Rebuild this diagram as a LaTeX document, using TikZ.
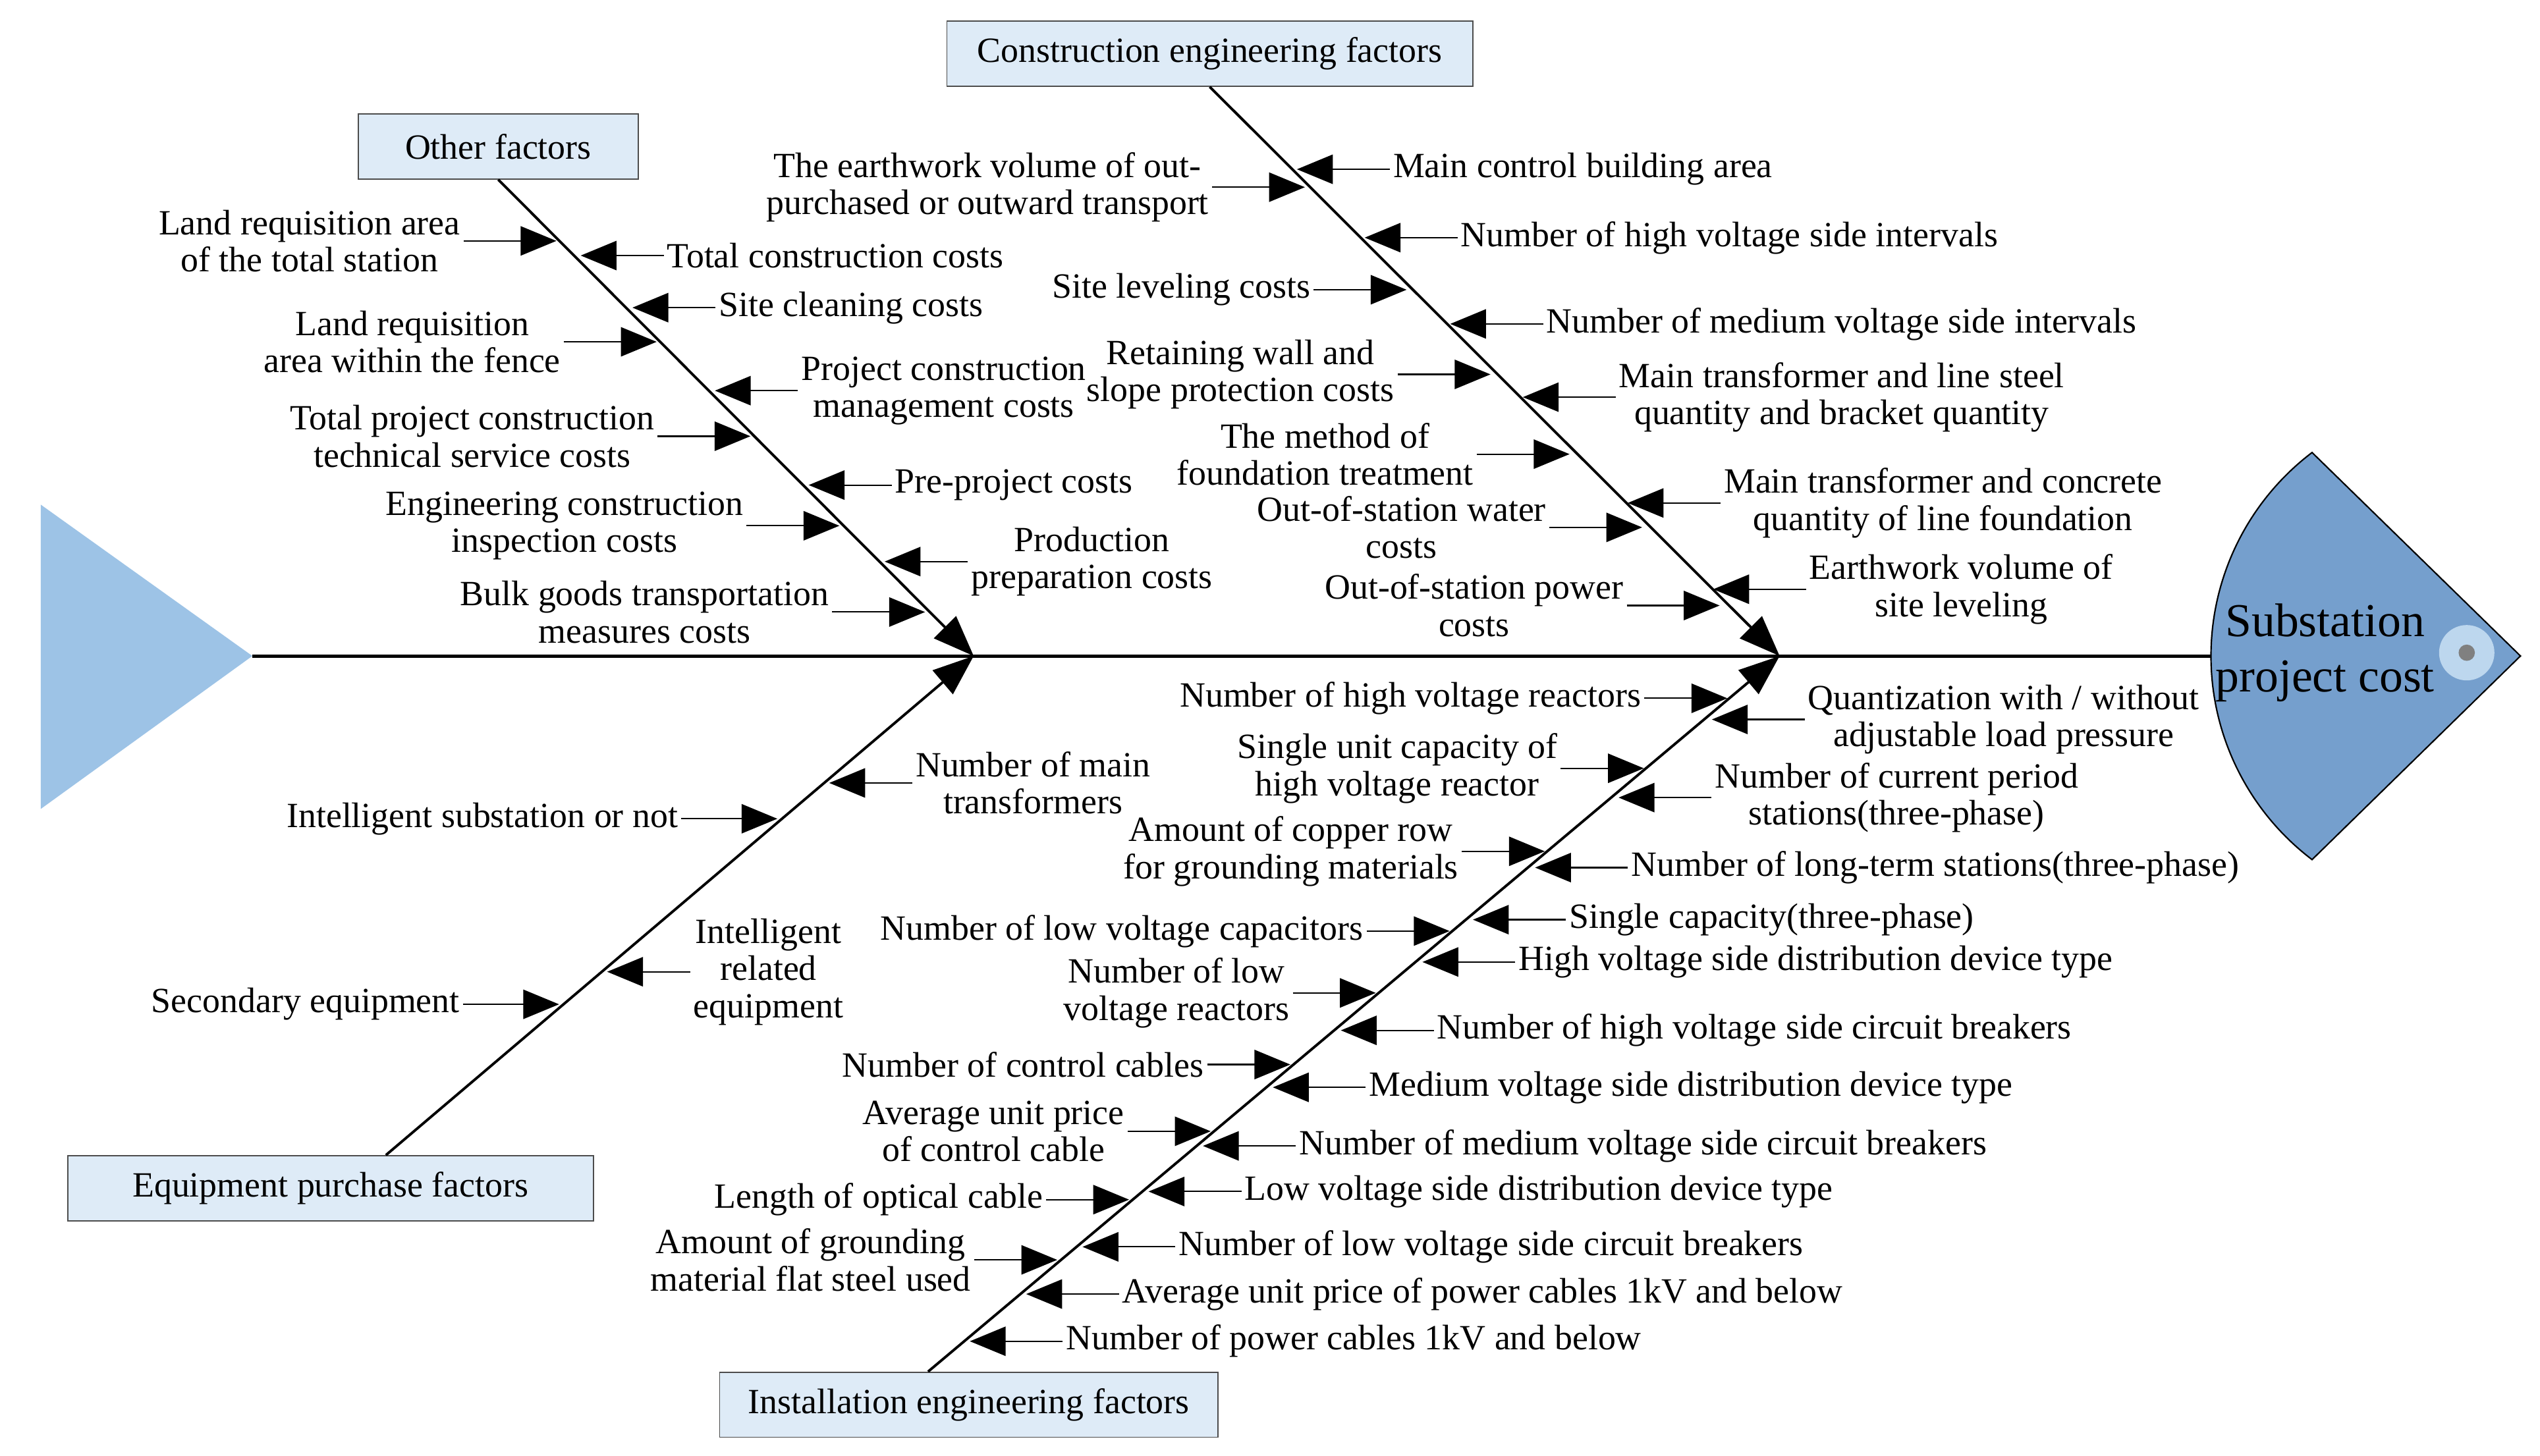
\documentclass[tikz,border=0pt]{standalone}
\usepackage{fontspec}
\setmainfont{Liberation Serif}
\usetikzlibrary{arrows.meta,calc}
\definecolor{tailblue}{HTML}{9DC3E6}
\definecolor{headblue}{HTML}{759FCD}
\definecolor{boxblue}{HTML}{DEEBF7}
\definecolor{eyeblue}{HTML}{BDD7EE}
\newcommand{\lbfont}{\fontsize{12.4}{13}\selectfont}
\tikzset{
  lbl/.style={font=\lbfont,inner sep=1pt,align=center},
  br/.style={line width=0.5pt,-{Triangle[length=4.4mm,width=3.6mm]}},
  bone/.style={line width=0.9pt,-{Triangle[length=5mm,width=3.8mm]}},
  cat/.style={draw=black!70,fill=boxblue,minimum height=0.8cm,font=\lbfont,inner sep=0pt}
}
\begin{document}
\begin{tikzpicture}[x=0.02cm,y=-0.02cm]
\useasboundingbox (0,0) rectangle (1560,894.4);
% tail and head
\fill[tailblue] (25,310) -- (155,403) -- (25,497) -- cycle;
\draw[fill=headblue,line width=0.5pt] (1420,278) arc[start angle=232.8,end angle=127.2,radius=157]
  -- (1548,403) -- cycle;
\node[font=\fontsize{16.5}{19.5}\selectfont,align=center] (head) at (1428,401) {Substation\\project cost};
\fill[eyeblue] (1515,401) circle[radius=17];
\fill[black!50] (1515,401) circle[radius=5];
% spine
\coordinate (tail) at (155,403);
\coordinate (neck) at (1358,403);
\draw[line width=1.2pt] (tail) -- (neck);
\coordinate (j1) at (598,403);
\coordinate (j2) at (1093,403);
% category boxes
\node[cat,minimum width=3.44cm] (other) at (306,90) {Other factors};
\node[cat,minimum width=6.46cm] (constr) at (743,33) {Construction engineering factors};
\node[cat,minimum width=6.46cm] (equip) at (203,730) {Equipment purchase factors};
\node[cat,minimum width=6.12cm] (inst) at (595,863) {Installation engineering factors};
\draw[bone] (other.south) -- (j1);
\draw[bone] (constr.south) -- (j2);
\draw[bone] (equip.north -| 237,0) -- (j1);
\draw[bone] (inst.north -| 570,0) -- (j2);
% Other factors
\foreach \y/\t [count=\i] in {148/{Land requisition area\\of the total station},210/{Land requisition\\area within the fence},
  268/{Total project construction\\technical service costs},323/{Engineering construction\\inspection costs},
  376/{Bulk goods transportation\\measures costs}}{
  \pgfmathsetmacro\bx{307+(\y-110)*0.993}
  \coordinate (ol\i) at (\bx-3,\y);
  \node[lbl,anchor=east] (oll\i) at (\bx-60,\y) {\t};
  \draw[br] (oll\i.east) -- (ol\i);
}
\foreach \y/\t [count=\i] in {157/{Total construction costs},189/{Site cleaning costs},
  240/{Project construction\\management costs},298/{Pre-project costs},345/{Production\\preparation costs}}{
  \pgfmathsetmacro\bx{307+(\y-110)*0.993}
  \coordinate (or\i) at (\bx+3,\y);
  \node[lbl,anchor=west] (orl\i) at (\bx+54,\y) {\t};
  \draw[br] (orl\i.west) -- (or\i);
}
% Construction engineering factors
\foreach \y/\t [count=\i] in {115/{The earthwork volume of out-\\purchased or outward transport},178/{Site leveling costs},
  230/{Retaining wall and\\slope protection costs},279/{The method of\\foundation treatment},
  324/{Out-of-station water\\costs},372/{Out-of-station power\\costs}}{
  \pgfmathsetmacro\bx{743+(\y-53)*0.991}
  \coordinate (cl\i) at (\bx-3,\y);
  \node[lbl,anchor=east] (cll\i) at (\bx-60,\y) {\t};
  \draw[br] (cll\i.east) -- (cl\i);
}
\foreach \y/\t [count=\i] in {104/{Main control building area},146/{Number of high voltage side intervals},
  199/{Number of medium voltage side intervals},244/{Main transformer and line steel\\quantity and bracket quantity},
  309/{Main transformer and concrete\\quantity of line foundation},362/{Earthwork volume of\\site leveling}}{
  \pgfmathsetmacro\bx{743+(\y-53)*0.991}
  \coordinate (cr\i) at (\bx+3,\y);
  \node[lbl,anchor=west] (crl\i) at (\bx+60,\y) {\t};
  \draw[br] (crl\i.west) -- (cr\i);
}
% Equipment purchase factors
\foreach \y/\t [count=\i] in {503/{Intelligent substation or not},617/{Secondary equipment}}{
  \pgfmathsetmacro\bx{237+(710-\y)*1.176}
  \coordinate (el\i) at (\bx-3,\y);
  \node[lbl,anchor=east] (ell\i) at (\bx-62,\y) {\t};
  \draw[br] (ell\i.east) -- (el\i);
}
\foreach \y/\t [count=\i] in {481/{Number of main\\transformers},597/{Intelligent\\related\\equipment}}{
  \pgfmathsetmacro\bx{237+(710-\y)*1.176}
  \coordinate (er\i) at (\bx+3,\y);
  \node[lbl,anchor=west] (erl\i) at (\bx+54,\y) {\t};
  \draw[br] (erl\i.west) -- (er\i);
}
% Installation engineering factors
\foreach \y/\t [count=\i] in {429/{Number of high voltage reactors},472/{Single unit capacity of\\high voltage reactor},
  523/{Amount of copper row\\for grounding materials},572/{Number of low voltage capacitors},
  610/{Number of low\\voltage reactors},654/{Number of control cables},695/{Average unit price\\of control cable},
  737/{Length of optical cable},774/{Amount of grounding\\material flat steel used}}{
  \pgfmathsetmacro\bx{570+(843-\y)*1.193}
  \coordinate (il\i) at (\bx-3,\y);
  \node[lbl,anchor=east] (ill\i) at (\bx-54,\y) {\t};
  \draw[br] (ill\i.east) -- (il\i);
}
\foreach \y/\t [count=\i] in {442/{Quantization with / without\\adjustable load pressure},
  490/{Number of current period\\stations(three-phase)},533/{Number of long-term stations(three-phase)},
  565/{Single capacity(three-phase)},591/{High voltage side distribution device type},
  633/{Number of high voltage side circuit breakers},668/{Medium voltage side distribution device type},
  704/{Number of medium voltage side circuit breakers},732/{Low voltage side distribution device type},
  766/{Number of low voltage side circuit breakers},795/{Average unit price of power cables 1kV and below},
  824/{Number of power cables 1kV and below}}{
  \pgfmathsetmacro\bx{570+(843-\y)*1.193}
  \coordinate (ir\i) at (\bx+3,\y);
  \node[lbl,anchor=west] (irl\i) at (\bx+60,\y) {\t};
  \draw[br] (irl\i.west) -- (ir\i);
}
\end{tikzpicture}
\end{document}
